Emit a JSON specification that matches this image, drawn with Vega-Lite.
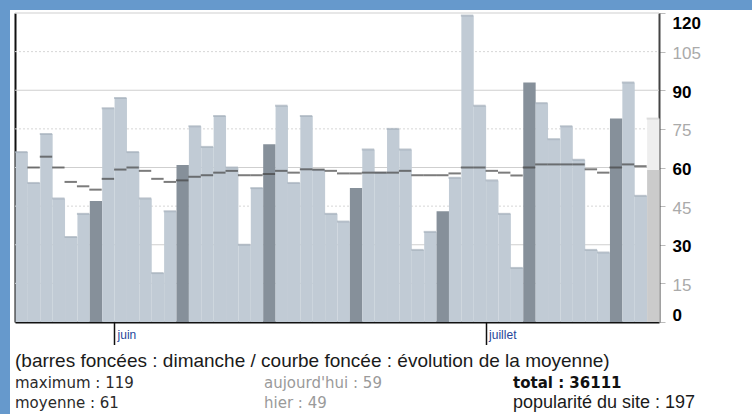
{
  "$schema": "https://vega.github.io/schema/vega-lite/v6.json",
  "background": "#6699cc",
  "padding": {"left": 10, "top": 10, "right": 0, "bottom": 0},
  "spacing": 0,
  "bounds": "flush",
  "config": {"view": {"fill": "white", "stroke": null}},
  "datasets": {
    "jours": [
      {"jour": "2010/05/24", "visites": 66, "moyenne": null, "type": "semaine"},
      {"jour": "2010/05/25", "visites": 54, "moyenne": 60.0, "type": "semaine"},
      {"jour": "2010/05/26", "visites": 73, "moyenne": 64.2, "type": "semaine"},
      {"jour": "2010/05/27", "visites": 48, "moyenne": 60.0, "type": "semaine"},
      {"jour": "2010/05/28", "visites": 33, "moyenne": 54.4, "type": "semaine"},
      {"jour": "2010/05/29", "visites": 42, "moyenne": 52.7, "type": "semaine"},
      {"jour": "2010/05/30", "visites": 47, "moyenne": 51.4, "type": "dimanche"},
      {"jour": "2010/05/31", "visites": 83, "moyenne": 55.6, "type": "semaine"},
      {"jour": "2010/06/01", "visites": 87, "moyenne": 59.2, "type": "semaine"},
      {"jour": "2010/06/02", "visites": 66, "moyenne": 60.0, "type": "semaine"},
      {"jour": "2010/06/03", "visites": 48, "moyenne": 58.7, "type": "semaine"},
      {"jour": "2010/06/04", "visites": 19, "moyenne": 55.6, "type": "semaine"},
      {"jour": "2010/06/05", "visites": 43, "moyenne": 54.4, "type": "semaine"},
      {"jour": "2010/06/06", "visites": 61, "moyenne": 55.0, "type": "dimanche"},
      {"jour": "2010/06/07", "visites": 76, "moyenne": 56.4, "type": "semaine"},
      {"jour": "2010/06/08", "visites": 68, "moyenne": 57.0, "type": "semaine"},
      {"jour": "2010/06/09", "visites": 80, "moyenne": 58.0, "type": "semaine"},
      {"jour": "2010/06/10", "visites": 60, "moyenne": 58.7, "type": "semaine"},
      {"jour": "2010/06/11", "visites": 30, "moyenne": 57.0, "type": "semaine"},
      {"jour": "2010/06/12", "visites": 52, "moyenne": 57.0, "type": "semaine"},
      {"jour": "2010/06/13", "visites": 69, "moyenne": 57.5, "type": "dimanche"},
      {"jour": "2010/06/14", "visites": 84, "moyenne": 58.7, "type": "semaine"},
      {"jour": "2010/06/15", "visites": 54, "moyenne": 58.0, "type": "semaine"},
      {"jour": "2010/06/16", "visites": 80, "moyenne": 59.3, "type": "semaine"},
      {"jour": "2010/06/17", "visites": 59, "moyenne": 59.2, "type": "semaine"},
      {"jour": "2010/06/18", "visites": 42, "moyenne": 58.7, "type": "semaine"},
      {"jour": "2010/06/19", "visites": 39, "moyenne": 57.7, "type": "semaine"},
      {"jour": "2010/06/20", "visites": 52, "moyenne": 57.7, "type": "dimanche"},
      {"jour": "2010/06/21", "visites": 67, "moyenne": 58.0, "type": "semaine"},
      {"jour": "2010/06/22", "visites": 58, "moyenne": 58.0, "type": "semaine"},
      {"jour": "2010/06/23", "visites": 75, "moyenne": 58.0, "type": "semaine"},
      {"jour": "2010/06/24", "visites": 67, "moyenne": 58.7, "type": "semaine"},
      {"jour": "2010/06/25", "visites": 28, "moyenne": 57.0, "type": "semaine"},
      {"jour": "2010/06/26", "visites": 35, "moyenne": 57.0, "type": "semaine"},
      {"jour": "2010/06/27", "visites": 43, "moyenne": 57.0, "type": "dimanche"},
      {"jour": "2010/06/28", "visites": 56, "moyenne": 57.7, "type": "semaine"},
      {"jour": "2010/06/29", "visites": 119, "moyenne": 60.0, "type": "semaine"},
      {"jour": "2010/06/30", "visites": 84, "moyenne": 60.0, "type": "semaine"},
      {"jour": "2010/07/01", "visites": 55, "moyenne": 58.7, "type": "semaine"},
      {"jour": "2010/07/02", "visites": 42, "moyenne": 58.0, "type": "semaine"},
      {"jour": "2010/07/03", "visites": 21, "moyenne": 56.9, "type": "semaine"},
      {"jour": "2010/07/04", "visites": 93, "moyenne": 60.0, "type": "dimanche"},
      {"jour": "2010/07/05", "visites": 85, "moyenne": 61.2, "type": "semaine"},
      {"jour": "2010/07/06", "visites": 71, "moyenne": 61.2, "type": "semaine"},
      {"jour": "2010/07/07", "visites": 76, "moyenne": 61.2, "type": "semaine"},
      {"jour": "2010/07/08", "visites": 63, "moyenne": 61.2, "type": "semaine"},
      {"jour": "2010/07/09", "visites": 28, "moyenne": 59.3, "type": "semaine"},
      {"jour": "2010/07/10", "visites": 27, "moyenne": 58.0, "type": "semaine"},
      {"jour": "2010/07/11", "visites": 79, "moyenne": 60.0, "type": "dimanche"},
      {"jour": "2010/07/12", "visites": 93, "moyenne": 61.2, "type": "semaine"},
      {"jour": "2010/07/13", "visites": 49, "moyenne": 60.5, "type": "semaine"},
      {"jour": "2010/07/14", "visites": 59, "moyenne": null, "estimation": 79, "type": "aujourd'hui"}
    ]
  },
  "vconcat": [
    {
      "width": 742,
      "height": 335,
      "data": {"name": "jours"},
      "layer": [
        {
          "data": {"values": [{"v": 15}, {"v": 30}, {"v": 45}, {"v": 60}, {"v": 75}, {"v": 90}, {"v": 105}, {"v": 120}]},
          "mark": {"type": "rule", "strokeWidth": 1},
          "encoding": {
            "x": {"datum": {"year": 2010, "month": 5, "date": 24}, "type": "temporal",
                  "scale": {"domain": [{"year": 2010, "month": 5, "date": 24}, {"year": 2010, "month": 7, "date": 15}], "range": [5, 649]}, "axis": null},
            "x2": {"datum": {"year": 2010, "month": 7, "date": 15}},
            "y": {"field": "v", "type": "quantitative", "scale": {"domain": [0, 120], "range": [312, 3], "nice": false}, "axis": null},
            "color": {"condition": {"test": "datum.v % 30 === 0", "value": "#cfcfcf"}, "value": "#d6d6d6"},
            "strokeDash": {"condition": {"test": "datum.v % 30 === 0", "value": [1, 0]}, "value": [2, 2]}
          }
        },
        {
          "mark": {"type": "bar", "color": "#eeeeee", "binSpacing": 0},
          "encoding": {
            "x": {"field": "jour", "timeUnit": "yearmonthdate", "type": "temporal",
                  "scale": {"domain": [{"year": 2010, "month": 5, "date": 24}, {"year": 2010, "month": 7, "date": 15}], "range": [5, 649]}, "axis": null},
            "y": {"field": "estimation", "type": "quantitative", "scale": {"domain": [0, 120], "range": [312, 3], "nice": false}, "axis": null}
          }
        },
        {
          "mark": {"type": "bar", "binSpacing": 0},
          "encoding": {
            "x": {"field": "jour", "timeUnit": "yearmonthdate", "type": "temporal",
                  "scale": {"domain": [{"year": 2010, "month": 5, "date": 24}, {"year": 2010, "month": 7, "date": 15}], "range": [5, 649]},
                  "axis": {"orient": "bottom", "offset": -23, "title": null, "grid": false,
                           "values": [{"year": 2010, "month": 6, "date": 1}, {"year": 2010, "month": 7, "date": 1}],
                           "labelExpr": "month(datum.value) === 5 ? 'juin' : 'juillet'",
                           "domainColor": "#111", "domainWidth": 2,
                           "tickColor": "#111", "tickWidth": 1.5, "tickSize": 24,
                           "labelAlign": "left", "labelBaseline": "top", "labelOffset": 3, "labelPadding": -17,
                           "labelColor": "#26469a", "labelFont": "Liberation Sans", "labelFontSize": 12}},
            "y": {"field": "visites", "type": "quantitative", "scale": {"domain": [0, 120], "range": [312, 3], "nice": false},
                  "axis": {"orient": "right", "offset": -93, "title": null, "grid": false,
                           "values": [0, 15, 30, 45, 60, 75, 90, 105, 120],
                           "domainColor": "#444", "domainWidth": 2,
                           "tickColor": "#bbbbbb", "tickSize": 6, "labelPadding": 7,
                           "labelFont": "Liberation Sans", "labelFontSize": 17, "labelFlush": true, "labelOffset": 2,
                           "labelColor": {"condition": {"test": "datum.value % 30 === 0", "value": "#000000"}, "value": "#aaaaaa"},
                           "labelFontWeight": {"condition": {"test": "datum.value % 30 === 0", "value": "bold"}, "value": "normal"}}},
            "color": {"field": "type", "type": "nominal",
                      "scale": {"domain": ["semaine", "dimanche", "aujourd'hui"], "range": ["#c1cbd5", "#86909a", "#cbcbcb"]},
                      "legend": null}
          }
        },
        {
          "transform": [{"filter": "datum.type === 'semaine'"}],
          "mark": {"type": "tick", "orient": "horizontal", "thickness": 2, "size": 12.4, "color": "#a4afbb"},
          "encoding": {
            "x": {"field": "jour", "timeUnit": "yearmonthdate", "type": "temporal", "bandPosition": 0.5,
                  "scale": {"domain": [{"year": 2010, "month": 5, "date": 24}, {"year": 2010, "month": 7, "date": 15}], "range": [5, 649]}, "axis": null},
            "y": {"field": "visites", "type": "quantitative", "scale": {"domain": [0, 120], "range": [312, 3], "nice": false}, "axis": null}
          }
        },
        {
          "mark": {"type": "tick", "orient": "horizontal", "thickness": 2, "size": 12.4, "color": "#d2d2d2"},
          "encoding": {
            "x": {"field": "jour", "timeUnit": "yearmonthdate", "type": "temporal", "bandPosition": 0.5,
                  "scale": {"domain": [{"year": 2010, "month": 5, "date": 24}, {"year": 2010, "month": 7, "date": 15}], "range": [5, 649]}, "axis": null},
            "y": {"field": "estimation", "type": "quantitative", "scale": {"domain": [0, 120], "range": [312, 3], "nice": false}, "axis": null}
          }
        },
        {
          "mark": {"type": "tick", "orient": "horizontal", "thickness": 2, "size": 12.4, "color": "#454545"},
          "encoding": {
            "x": {"field": "jour", "timeUnit": "yearmonthdate", "type": "temporal", "bandPosition": 0.5,
                  "scale": {"domain": [{"year": 2010, "month": 5, "date": 24}, {"year": 2010, "month": 7, "date": 15}], "range": [5, 649]}, "axis": null},
            "y": {"field": "moyenne", "type": "quantitative", "scale": {"domain": [0, 120], "range": [312, 3], "nice": false},
                  "axis": {"orient": "left", "offset": -5, "title": null, "labels": false, "ticks": false, "grid": false,
                           "domainColor": "#111", "domainWidth": 2}}
          }
        }
      ],
      "resolve": {"axis": {"x": "independent", "y": "independent"}}
    },
    {
      "width": 742,
      "height": 69,
      "encoding": {
        "x": {"field": "col", "type": "ordinal", "scale": {"type": "point", "domain": ["a", "b", "c"], "range": [5, 503], "padding": 0}, "axis": null},
        "y": {"field": "ligne", "type": "ordinal", "scale": {"type": "point", "domain": ["l0", "l1", "l2"], "range": [22, 63], "padding": 0}, "axis": null},
        "text": {"field": "texte"}
      },
      "layer": [
        {
          "data": {"values": [{"col": "a", "ligne": "l0", "texte": "(barres foncées : dimanche / courbe foncée : évolution de la moyenne)"}]},
          "mark": {"type": "text", "align": "left", "baseline": "alphabetic", "font": "Liberation Sans", "fontSize": 19, "color": "#1a1a1a"}
        },
        {
          "data": {"values": [{"col": "a", "ligne": "l1", "texte": "maximum : 119"}, {"col": "a", "ligne": "l2", "texte": "moyenne : 61"}]},
          "mark": {"type": "text", "align": "left", "baseline": "alphabetic", "font": "DejaVu Sans", "fontSize": 15, "color": "#2a2a2a"}
        },
        {
          "data": {"values": [{"col": "b", "ligne": "l1", "texte": "aujourd'hui : 59"}, {"col": "b", "ligne": "l2", "texte": "hier : 49"}]},
          "mark": {"type": "text", "align": "left", "baseline": "alphabetic", "font": "DejaVu Sans", "fontSize": 15, "color": "#9a9a9a"}
        },
        {
          "data": {"values": [{"col": "c", "ligne": "l1", "texte": "total : 36111"}]},
          "mark": {"type": "text", "align": "left", "baseline": "alphabetic", "font": "DejaVu Sans", "fontSize": 15, "fontWeight": "bold", "color": "#111111"}
        },
        {
          "data": {"values": [{"col": "c", "ligne": "l2", "texte": "popularité du site : 197"}]},
          "mark": {"type": "text", "align": "left", "baseline": "alphabetic", "font": "Liberation Sans", "fontSize": 18, "color": "#1a1a1a"}
        }
      ]
    }
  ]
}
